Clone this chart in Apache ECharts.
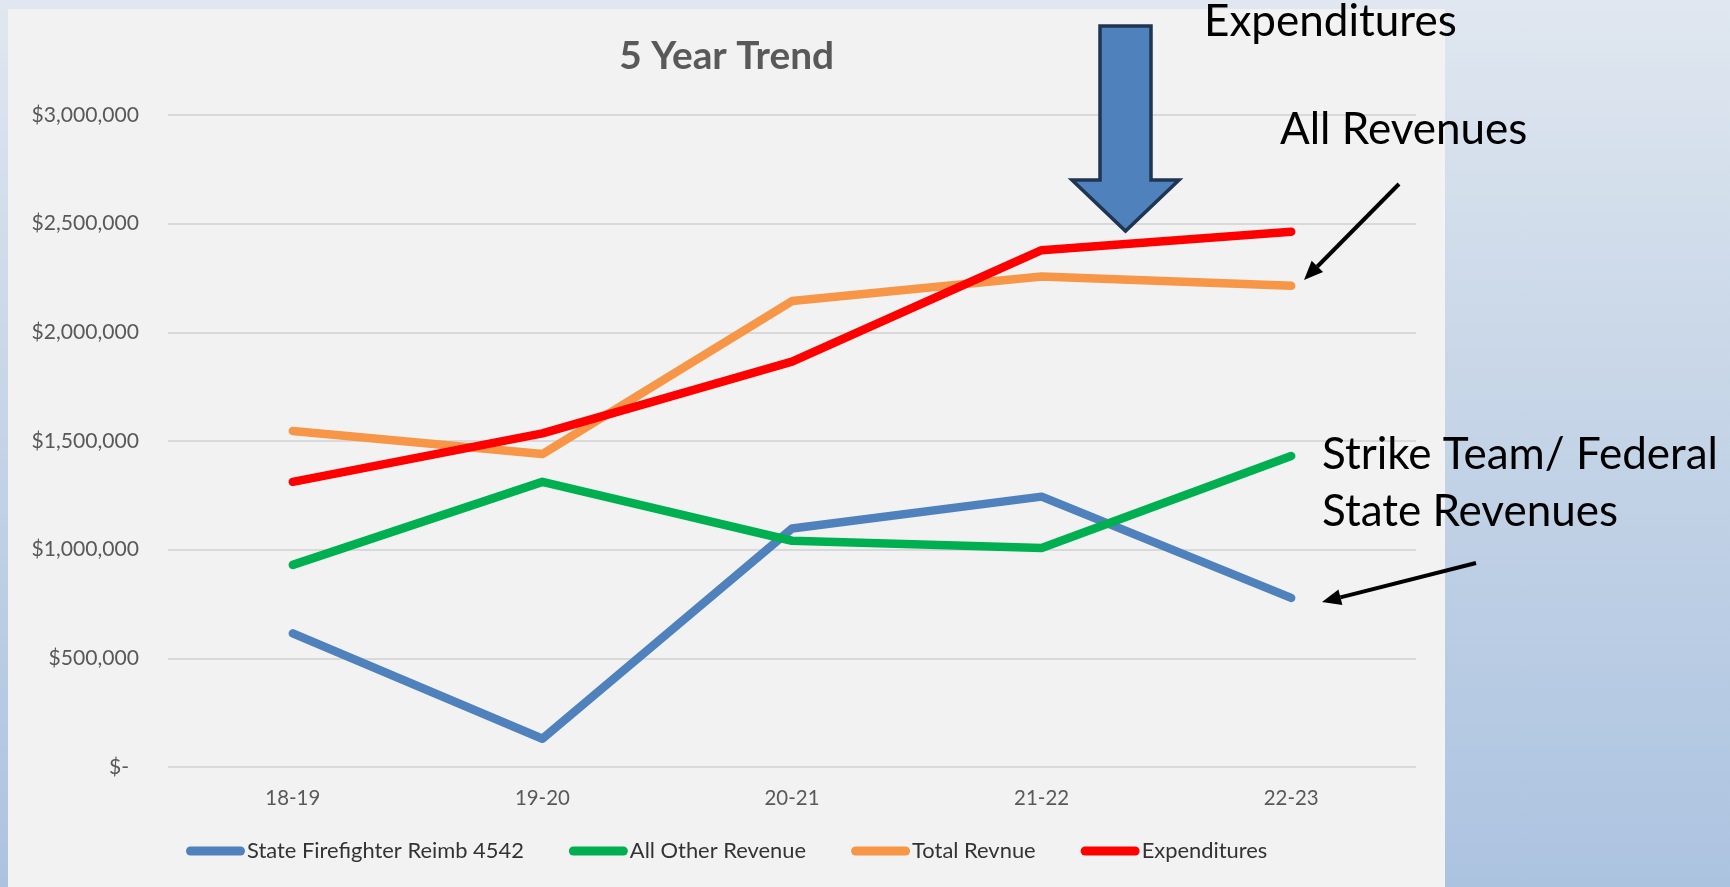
<!DOCTYPE html>
<html>
<head>
<meta charset="utf-8">
<script src="https://cdn.jsdelivr.net/npm/echarts@6/dist/echarts.min.js"></script>
<style>
  html, body { margin: 0; padding: 0; width: 1730px; height: 887px; overflow: hidden; }
  body { background: linear-gradient(to bottom, #e0e7f0 0%, #c9d7e8 40%, #acc3e0 100%); position: relative; }
  #panel { position: absolute; left: 8px; top: 9px; width: 1437px; height: 878px; background: #f2f2f2; }
  #chart { position: absolute; left: 0; top: 0; width: 1730px; height: 887px; }
</style>
</head>
<body>
<div id="panel"></div>
<div id="chart"></div>
<script>
// ---- data ----
const categories = ['18-19', '19-20', '20-21', '21-22', '22-23'];
const seriesNames = ['State Firefighter Reimb 4542', 'All Other Revenue', 'Total Revnue', 'Expenditures'];
const stateFirefighter = [615000, 130000, 1097000, 1244000, 778000];
const allOtherRevenue = [930000, 1312000, 1041000, 1008000, 1431000];
const totalRevenue = [1546000, 1440000, 2144000, 2257000, 2214000];
const expenditures = [1312000, 1535000, 1865000, 2378000, 2463000];
const yTicks = { min: 0, max: 3000000, interval: 500000 };
const titleText = '5 Year Trend';
const annotations = ['Expenditures', 'All Revenues', 'Strike Team/ Federal', 'State Revenues'];

// ---- font fitting (substitute font sized to reference text widths) ----
const FAMILY = 'Lato';
const mctx = document.createElement('canvas').getContext('2d');
function fit(text, weight, target) {
  mctx.font = weight + ' 100px ' + FAMILY;
  return 100 * target / mctx.measureText(text).width;
}
const yFont = fit('$3,000,000', 'normal', 107.6);
const xFont = fit('18-19', 'normal', 55);
const legendFont = fit('State Firefighter Reimb 4542', 'normal', 277);
const titleFont = fit('5 Year Trend', 'bold', 215);
const annFont = (fit('Strike Team/ Federal', 'normal', 398) + fit('Expenditures', 'normal', 252) + fit('All Revenues', 'normal', 247)) / 3;

const colors = ['#4f81bd', '#00b050', '#f79646', '#ff0000'];
const seriesData = [stateFirefighter, allOtherRevenue, totalRevenue, expenditures];

function arrow(x1, y1, x2, y2) {
  const ang = Math.atan2(y2 - y1, x2 - x1);
  const L = 19, W = 8;
  const bx = x2 - L * Math.cos(ang), by = y2 - L * Math.sin(ang);
  const px = -Math.sin(ang) * W, py = Math.cos(ang) * W;
  return [
    { type: 'line', shape: { x1: x1, y1: y1, x2: bx, y2: by }, style: { stroke: '#000', lineWidth: 4 }, z: 100 },
    { type: 'polygon', shape: { points: [[x2, y2], [bx + px, by + py], [bx - px, by - py]] }, style: { fill: '#000' }, z: 100 }
  ];
}

const chart = echarts.init(document.getElementById('chart'), null, { renderer: 'canvas' });
const option = {
  backgroundColor: 'transparent',
  animation: false,
  grid: { left: 168, right: 314, top: 115, bottom: 120, containLabel: false, outerBoundsMode: 'none' },
  xAxis: {
    type: 'category',
    data: categories,
    boundaryGap: true,
    axisLine: { show: false },
    axisTick: { show: false },
    axisLabel: { color: '#595959', fontFamily: FAMILY, fontSize: xFont, margin: 21 }
  },
  yAxis: {
    type: 'value',
    min: yTicks.min, max: yTicks.max, interval: yTicks.interval,
    axisLine: { show: false },
    axisTick: { show: false },
    splitLine: { lineStyle: { color: '#d9d9d9', width: 2 } },
    axisLabel: {
      color: '#595959', fontFamily: FAMILY, fontSize: yFont, margin: 29,
      formatter: function (v) {
        if (v === 0) return '{z|$-}';
        return '$' + v.toLocaleString('en-US');
      },
      rich: { z: { color: '#595959', fontFamily: FAMILY, fontSize: yFont, padding: [0, 10, 0, 0] } }
    }
  },
  legend: {
    left: 186, top: 840, padding: 0,
    itemWidth: 59, itemHeight: 9, itemGap: 45,
    icon: 'path://M4.5,0 L54.5,0 A4.5,4.5 0 0 1 54.5,9 L4.5,9 A4.5,4.5 0 0 1 4.5,0 Z',
    textStyle: { color: '#333333', fontFamily: FAMILY, fontSize: legendFont, padding: [0, 0, 0, -3] },
    data: seriesNames
  },
  series: seriesNames.map(function (name, i) {
    return {
      name: name, type: 'line', data: seriesData[i],
      showSymbol: false, symbol: 'none',
      itemStyle: { color: colors[i] },
      lineStyle: { color: colors[i], width: 8.5, cap: 'round', join: 'round' },
      emphasis: { disabled: true }
    };
  }),
  graphic: [
    { type: 'text', x: 726.7, y: 56.3, z: 100,
      style: { text: titleText, fill: '#595959', font: 'bold ' + titleFont + 'px ' + FAMILY, textAlign: 'center', textVerticalAlign: 'middle' } },
    { type: 'polygon', z: 100,
      shape: { points: [[1100, 26], [1151, 26], [1151, 180], [1179, 180], [1125.5, 231], [1072, 180], [1100, 180]] },
      style: { fill: '#4f81bd', stroke: '#1f3552', lineWidth: 3.5, lineJoin: 'miter' } },
    { type: 'text', x: 1204, y: 22.3, z: 100,
      style: { text: annotations[0], fill: '#000', font: annFont + 'px ' + FAMILY, textAlign: 'left', textVerticalAlign: 'middle' } },
    { type: 'text', x: 1280, y: 129.5, z: 100,
      style: { text: annotations[1], fill: '#000', font: annFont + 'px ' + FAMILY, textAlign: 'left', textVerticalAlign: 'middle' } },
    { type: 'text', x: 1322, y: 455, z: 100,
      style: { text: annotations[2], fill: '#000', font: annFont + 'px ' + FAMILY, textAlign: 'left', textVerticalAlign: 'middle' } },
    { type: 'text', x: 1322, y: 512, z: 100,
      style: { text: annotations[3], fill: '#000', font: annFont + 'px ' + FAMILY, textAlign: 'left', textVerticalAlign: 'middle' } }
  ].concat(arrow(1399, 184, 1304, 280)).concat(arrow(1476, 563, 1322, 602))
};
chart.setOption(option);
</script>
</body>
</html>
